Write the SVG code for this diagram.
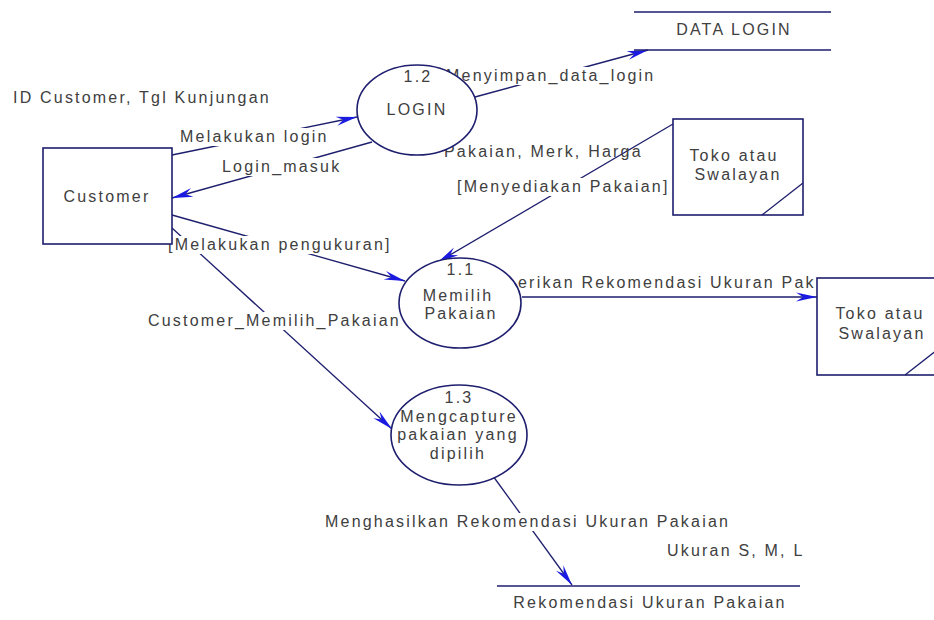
<svg xmlns="http://www.w3.org/2000/svg" width="934" height="620" viewBox="0 0 934 620">
<style>
.t{font-family:"Liberation Sans",Arial,sans-serif;font-size:16px;letter-spacing:2.2px;fill:#404040}
.c{text-anchor:middle}
.ln{stroke:#1e1e6e;stroke-width:1.3;fill:none}
.nd{stroke:#1e1e6e;stroke-width:1.6;fill:#fff}
.bg{fill:#fff}
</style>
<defs>
<marker id="ah" markerUnits="userSpaceOnUse" markerWidth="24" markerHeight="12" refX="21" refY="5.5" orient="auto">
<path d="M0,1 L21,5.5 L0,10 L7,5.5 z" fill="#1a1ae0"/>
</marker>
</defs>
<rect width="934" height="620" fill="#fff"/>
<g id="connectors">
<path class="ln" d="M172,155 L357,117" marker-end="url(#ah)"/>
<path class="ln" d="M372,142 L172,198" marker-end="url(#ah)"/>
<path class="ln" d="M475,97 L648,50" marker-end="url(#ah)"/>
<path class="ln" d="M673,124 L438,262" marker-end="url(#ah)"/>
<path class="ln" d="M172,215 L405,281" marker-end="url(#ah)"/>
<path class="ln" d="M172,228 L392,429" marker-end="url(#ah)"/>
<path class="ln" d="M522,297 L817,297" marker-end="url(#ah)"/>
<path class="ln" d="M493,476 L572,585" marker-end="url(#ah)"/>
</g>
<g id="labels">
<text class="t" x="13" y="103">ID Customer, Tgl Kunjungan</text>
<rect class="bg" x="178" y="128" width="147" height="18"/>
<text class="t" x="180" y="142">Melakukan login</text>
<rect class="bg" x="220" y="158" width="122" height="18"/>
<text class="t" x="222" y="172">Login_masuk</text>
<rect class="bg" x="166" y="236" width="223" height="18"/>
<text class="t" x="168" y="250">[Melakukan pengukuran]</text>
<rect class="bg" x="146" y="312" width="253" height="18"/>
<text class="t" x="148" y="326">Customer_Memilih_Pakaian</text>
<rect class="bg" x="444" y="67" width="211" height="18"/>
<text class="t" x="446" y="81">Menyimpan_data_login</text>
<text class="t" x="444" y="157">Pakaian, Merk, Harga</text>
<rect class="bg" x="455" y="178" width="217" height="18"/>
<text class="t" x="457" y="192">[Menyediakan Pakaian]</text>
<text class="t" x="518" y="288">erikan Rekomendasi Ukuran Pak</text>
<rect class="bg" x="323" y="513" width="406" height="18"/>
<text class="t" x="325" y="527">Menghasilkan Rekomendasi Ukuran Pakaian</text>
<text class="t" x="667" y="556">Ukuran S, M, L</text>
</g>
<g id="customer">
<rect class="nd" x="43" y="148" width="129" height="96"/>
<text class="t c" x="107" y="202">Customer</text>
</g>
<g id="login">
<ellipse class="nd" cx="417" cy="110" rx="60" ry="45"/>
<text class="t c" x="418" y="82">1.2</text>
<text class="t c" x="417" y="115">LOGIN</text>
</g>
<g id="memilih">
<ellipse class="nd" cx="460" cy="303" rx="61" ry="45"/>
<text class="t c" x="461" y="275">1.1</text>
<text class="t c" x="458" y="301">Memilih</text>
<text class="t c" x="461" y="319">Pakaian</text>
</g>
<g id="mengcapture">
<ellipse class="nd" cx="459" cy="435" rx="68" ry="50"/>
<text class="t c" x="459" y="403">1.3</text>
<text class="t c" x="459" y="422">Mengcapture</text>
<text class="t c" x="458" y="440">pakaian yang</text>
<text class="t c" x="458" y="459">dipilih</text>
</g>
<g id="data-login">
<path class="ln" d="M634,12 H831 M634,50 H831" stroke-width="1.6"/>
<text class="t c" x="734" y="35">DATA LOGIN</text>
</g>
<g id="rekomendasi">
<path class="ln" d="M497,586 H800" stroke-width="1.6"/>
<text class="t c" x="650" y="608">Rekomendasi Ukuran Pakaian</text>
</g>
<g id="toko-top">
<rect class="nd" x="673" y="119" width="130" height="96"/>
<path class="ln" d="M762,215 L803,183"/>
<text class="t c" x="734" y="161">Toko atau</text>
<text class="t c" x="738" y="180">Swalayan</text>
</g>
<g id="toko-right">
<rect class="nd" x="817" y="278" width="129" height="97"/>
<path class="ln" d="M905,375 L946,343"/>
<text class="t c" x="880" y="319">Toko atau</text>
<text class="t c" x="882" y="339">Swalayan</text>
</g>
</svg>
